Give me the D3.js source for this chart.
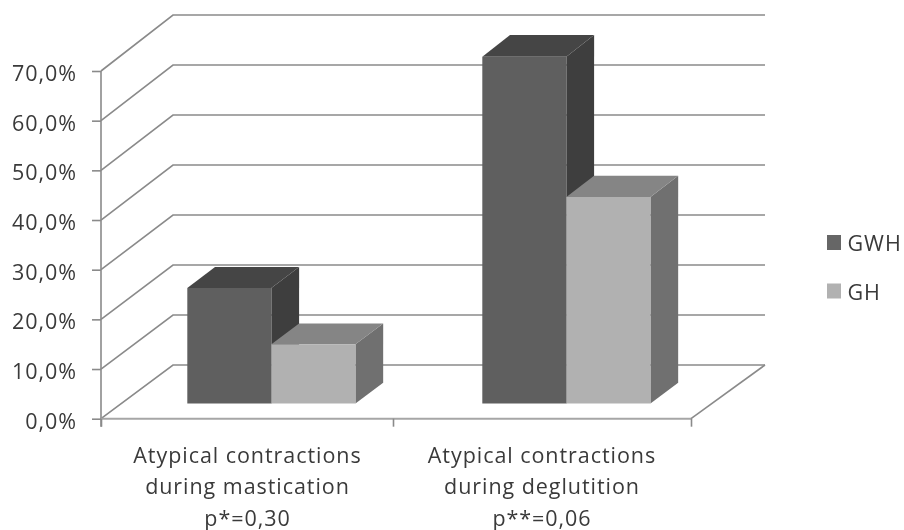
<!DOCTYPE html>
<html>

<head>
    <meta charset="utf-8">
    <title>Atypical contractions</title>
    <script src="https://d3js.org/d3.v7.min.js"></script>
    <style>
        html, body { margin: 0; padding: 0; background: #fff; overflow: hidden; }
        svg { display: block; filter: blur(0.45px); }
        text { font-family: "Open Sans", sans-serif; font-size: 21.5px; letter-spacing: 0.95px; fill: #3a3a3a; }
    </style>
</head>

<body>
    <div id="chart"></div>
    <script>
        // values
        var categories = ["mastication", "deglutition"];
        var categoryLines = [
            ["Atypical contractions", "during mastication", "p*=0,30"],
            ["Atypical contractions", "during deglutition", "p**=0,06"]
        ];
        var seriesNames = ["GWH", "GH"];
        var gwhValues = [23.2, 69.7];
        var ghValues = [11.9, 41.5];
        var yTicks = [0, 10, 20, 30, 40, 50, 60, 70];

        var width = 904, height = 530;

        var svg = d3.select("#chart").append("svg")
            .attr("width", width)
            .attr("height", height);

        // front plane and back wall have slightly different vertical scales
        var y = d3.scaleLinear().domain([0, 70]).range([418.7, 71]);
        var yBack = d3.scaleLinear().domain([0, 70]).range([365, 15]);
        var xEdge = d3.scaleLinear().domain([0, 1, 2]).range([101, 393, 691]);
        var xGroup = d3.scaleBand().domain(categories).range([103.5, 693.5]).paddingInner(0.43).paddingOuter(0.215);
        var xSeries = d3.scaleBand().domain(seriesNames).range([0, xGroup.bandwidth()]);

        // depth goes up and to the right, z=1 is the back wall
        var depthX = 72;
        var barFront = 0.283, barBack = 0.668;
        var colors = {
            GWH: { front: "#5f5f5f", top: "#454545", side: "#3e3e3e", key: "#666666" },
            GH: { front: "#b1b1b1", top: "#858585", side: "#707070", key: "#b1b1b1" }
        };
        var gridColor = "#8a8a8a";

        function pt(x, v, z) {
            return [x + z * depthX, y(v) + z * (yBack(v) - y(v))];
        }
        var line = d3.line();
        var rightEdge = xEdge(2) + 2;

        // walls and floor
        svg.selectAll(".grid")
            .data(yTicks)
            .enter().append("path")
            .attr("class", "grid")
            .attr("fill", "none")
            .attr("stroke", gridColor)
            .attr("stroke-width", 1.6)
            .attr("d", function (d) {
                return line([pt(xEdge(0), d, 0), pt(xEdge(0), d, 1), pt(rightEdge, d, 1)]);
            });
        svg.append("path")
            .attr("fill", "none")
            .attr("stroke", gridColor)
            .attr("stroke-width", 1.6)
            .attr("d", line([pt(xEdge(2), 0, 0), pt(rightEdge, 0, 1)]));

        // bars
        var bars = [];
        categories.forEach(function (c, i) {
            bars.push({ cat: c, name: "GWH", value: gwhValues[i] });
            bars.push({ cat: c, name: "GH", value: ghValues[i] });
        });
        var bar = svg.selectAll(".bar")
            .data(bars)
            .enter().append("g")
            .attr("class", "bar");
        function left(d) { return xGroup(d.cat) + xSeries(d.name); }
        function right(d) { return left(d) + xSeries.bandwidth(); }
        bar.append("path")
            .attr("fill", function (d) { return colors[d.name].side; })
            .attr("d", function (d) {
                return line([pt(right(d), 0, barFront), pt(right(d), 0, barBack), pt(right(d), d.value, barBack), pt(right(d), d.value, barFront)]) + "Z";
            });
        bar.append("path")
            .attr("fill", function (d) { return colors[d.name].top; })
            .attr("d", function (d) {
                return line([pt(left(d), d.value, barFront), pt(left(d), d.value, barBack), pt(right(d), d.value, barBack), pt(right(d), d.value, barFront)]) + "Z";
            });
        bar.append("path")
            .attr("fill", function (d) { return colors[d.name].front; })
            .attr("d", function (d) {
                return line([pt(left(d), 0, barFront), pt(left(d), d.value, barFront), pt(right(d), d.value, barFront), pt(right(d), 0, barFront)]) + "Z";
            });

        // axes
        var yAxis = svg.append("g")
            .attr("transform", "translate(" + xEdge(0) + ",0)")
            .call(d3.axisLeft(y).tickValues(yTicks).tickSize(9).tickPadding(15)
                .tickFormat(function (d) { return d.toFixed(1).replace(".", ",") + "%"; }));
        var xAxis = svg.append("g")
            .attr("transform", "translate(0," + y(0) + ")")
            .call(d3.axisBottom(xEdge).tickValues([0, 1, 2]).tickSize(8).tickFormat(""));
        yAxis.selectAll("path,line").attr("stroke", gridColor).attr("stroke-width", 1.6);
        xAxis.selectAll("path,line").attr("stroke", gridColor).attr("stroke-width", 1.6);
        yAxis.select(".domain").attr("d", "M0," + y(70) + "V" + (y(0) + 8));
        xAxis.select(".domain").attr("d", "M" + xEdge(0) + ",0H" + xEdge(2)).attr("stroke", "#a6a6a6").attr("stroke-width", 2);
        yAxis.selectAll("text").attr("dy", "0.44em");
        yAxis.attr("font-family", null).attr("font-size", null);

        // category labels under the axis
        var labelX = d3.scalePoint().domain(categories).range([xEdge(0.5) + 0.5, xEdge(1.5)]);
        categoryLines.forEach(function (lines, i) {
            svg.selectAll(".cat" + i)
                .data(lines)
                .enter().append("text")
                .attr("class", "cat" + i)
                .attr("text-anchor", "middle")
                .attr("x", labelX(categories[i]))
                .attr("y", function (d, j) { return 462.5 + j * 31.5; })
                .text(function (d) { return d; });
        });

        // legend
        var legendY = d3.scalePoint().domain(seriesNames).range([242.5, 291]);
        var legend = svg.selectAll(".legend")
            .data(seriesNames)
            .enter().append("g")
            .attr("class", "legend")
            .attr("transform", function (d) { return "translate(827," + legendY(d) + ")"; });
        legend.append("rect")
            .attr("y", -7.5)
            .attr("width", 14)
            .attr("height", 15)
            .attr("fill", function (d) { return colors[d].key; });
        legend.append("text")
            .attr("x", 20.5)
            .attr("y", 8.5)
            .text(function (d) { return d; });
    </script>
</body>

</html>
